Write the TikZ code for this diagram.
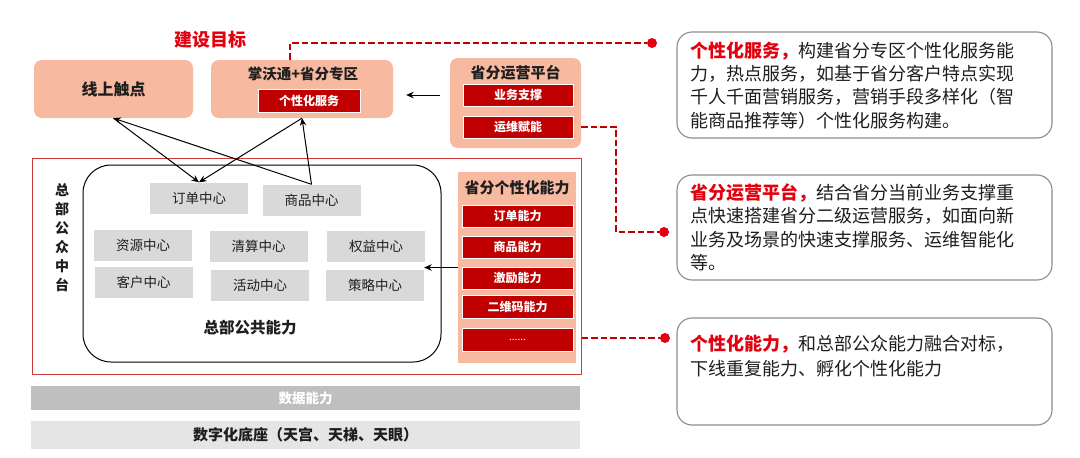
\documentclass[tikz,border=0pt]{standalone}
\usepackage{fontspec}
\setmainfont{Noto Sans CJK SC}
\usetikzlibrary{arrows.meta}
\definecolor{salmon}{HTML}{F8B9A1}
\definecolor{dred}{HTML}{C00000}
\definecolor{bred}{HTML}{E3000F}
\definecolor{fred}{HTML}{D03A3A}
\definecolor{gbox}{HTML}{D9D9D9}
\definecolor{txt}{HTML}{1E1E1E}
\definecolor{frame}{HTML}{8C8C8C}
\tikzset{
  pinkbox/.style={fill=salmon, draw=none, rounded corners=8pt, inner sep=0pt},
  redbox/.style={fill=dred, draw=white, line width=0.8pt, inner sep=0pt, text=white, minimum width=111pt, font=\fontsize{12}{12}\selectfont\bfseries},
  graybox/.style={fill=gbox, draw=none, inner sep=0pt, minimum width=98pt, minimum height=31pt, text=txt, font=\fontsize{13.5}{13.5}\selectfont},
  title/.style={inner sep=0pt, text=txt, font=\fontsize{#1}{#1}\selectfont\bfseries},
  note/.style={draw=frame, line width=1.1pt, rounded corners=15pt, fill=white, minimum width=375pt, inner sep=0pt},
  notetext/.style={anchor=north west, inner sep=0pt, align=left, text=txt},
  link/.style={draw=dred, line width=1.5pt, dash pattern=on 6.5pt off 3pt},
  dot/.style={circle, fill=bred, inner sep=0pt, minimum size=10pt},
  arr/.style={draw=black, line width=1pt, -{Stealth[length=7.5pt,width=6.5pt]}}
}
\begin{document}
\begin{tikzpicture}[x=1pt,y=-1pt]
\useasboundingbox[fill=white] (0,0) rectangle (1080,458);

% goal title
\node[title=18, text=bred] (goal) at (210,40) {建设目标};

% top row
\node[pinkbox, minimum width=159pt, minimum height=58pt, title=16] (online) at (113.5,89) {线上触点};
\node[pinkbox, minimum width=182pt, minimum height=58pt] (zwt) at (302,89) {};
\node[title=14.5] (zwtt) at (303,74) {掌沃通+省分专区};
\node[redbox, minimum width=102pt, minimum height=23pt] (gxfw) at (309,100.5) {个性化服务};

\node[pinkbox, minimum width=131pt, minimum height=90pt] (plat) at (515.5,103) {};
\node[title=15] (platt) at (515.5,73) {省分运营平台};
\node[redbox, minimum width=110pt, minimum height=22pt] (ywzc) at (518,95) {业务支撑};
\node[redbox, minimum width=110pt, minimum height=22pt] (ywfn) at (518,127) {运维赋能};

% HQ middle platform
\node[draw=fred, line width=1pt, minimum width=549pt, minimum height=216pt, inner sep=0pt] (hq) at (306.5,266) {};
\node[draw=black, line width=1pt, rounded corners=28pt, minimum width=358pt, minimum height=197pt, inner sep=0pt] (common) at (262,263.5) {};
\node[inner sep=0pt, text=txt, align=center, font=\fontsize{14}{19}\selectfont\bfseries] (hqt) at (62,237.5) {总\\部\\公\\众\\中\\台};

\node[graybox] (dd) at (199,198) {订单中心};
\node[graybox] (sp) at (311.5,200) {商品中心};
\node[graybox] (zy) at (143,245) {资源中心};
\node[graybox] (qs) at (258.5,246.5) {清算中心};
\node[graybox] (qy) at (376,246.5) {权益中心};
\node[graybox] (kh) at (143.5,282.5) {客户中心};
\node[graybox] (hd) at (260,285) {活动中心};
\node[graybox] (cl) at (375,285.5) {策略中心};
\node[title=15.5] (commont) at (250,328) {总部公共能力};

% provincial capabilities
\node[pinkbox, rounded corners=0pt, minimum width=118pt, minimum height=191pt] (prov) at (517,267.5) {};
\node[title=15] (provt) at (517,188) {省分个性化能力};
\node[redbox, minimum height=22pt] (c1) at (517.5,216) {订单能力};
\node[redbox, minimum height=22pt] (c2) at (517.5,247) {商品能力};
\node[redbox, minimum height=22pt] (c3) at (517.5,278) {激励能力};
\node[redbox, minimum height=23pt] (c4) at (517.5,306.5) {二维码能力};
\node[redbox, minimum height=23pt, font=\fontsize{10}{10}\selectfont] (c5) at (517.5,339.5) {......};

% bottom bars
\node[fill=gray!50, minimum width=549pt, minimum height=24pt, inner sep=0pt, text=white, font=\fontsize{13.5}{13.5}\selectfont\bfseries] (data) at (305.5,398) {数据能力};
\node[fill=gray!20, minimum width=549pt, minimum height=28pt, inner sep=0pt, text=txt, font=\fontsize{15}{15}\selectfont\bfseries] (base) at (305.5,435) {数字化底座（天宫、天梯、天眼）};

% connectors
\draw[arr] (sp.north) -- (online.south);
\draw[arr] (sp.north) -- (zwt.south);
\draw[arr] (online.south) -- (dd.north);
\draw[arr] (zwt.south) -- (dd.north);
\draw[arr, shorten <=10pt, shorten >=13pt] (plat.west |- ywzc) -- (zwt.east |- ywzc);
\draw[arr] (prov.west) -- (prov.west -| cl.east);

% right notes
\node[note, minimum height=106pt] (n1) at (864.5,85) {};
\node[notetext, font=\fontsize{18}{23.3}\selectfont] (n1t) at (690,41.5) {{\color{bred}\bfseries 个性化服务，}构建省分专区个性化服务能\\力，热点服务，如基于省分客户特点实现\\千人千面营销服务，营销手段多样化（智\\能商品推荐等）个性化服务构建。};

\node[note, minimum height=105pt] (n2) at (864.5,227.5) {};
\node[notetext, font=\fontsize{18}{23.3}\selectfont] (n2t) at (690,183.5) {{\color{bred}\bfseries 省分运营平台，}结合省分当前业务支撑重\\点快速搭建省分二级运营服务，如面向新\\业务及场景的快速支撑服务、运维智能化\\等。};

\node[note, minimum height=107pt] (n3) at (864.5,371.5) {};
\node[notetext, font=\fontsize{18}{25}\selectfont] (n3t) at (690,334.5) {{\color{bred}\bfseries 个性化能力，}和总部公众能力融合对标，\\下线重复能力、孵化个性化能力};

% dashed links
\node[dot] (d1) at (652,43) {};
\node[dot] (d2) at (664,232) {};
\node[dot] (d3) at (665,338) {};
\coordinate (bend2) at (616,232);
\draw[link] ([xshift=-12pt]zwt.north) |- (d1);
\draw[link] (plat.east |- ywfn) -| (bend2) -- (d2);
\draw[link] (hq.east |- d3) -- (d3);
\end{tikzpicture}
\end{document}
